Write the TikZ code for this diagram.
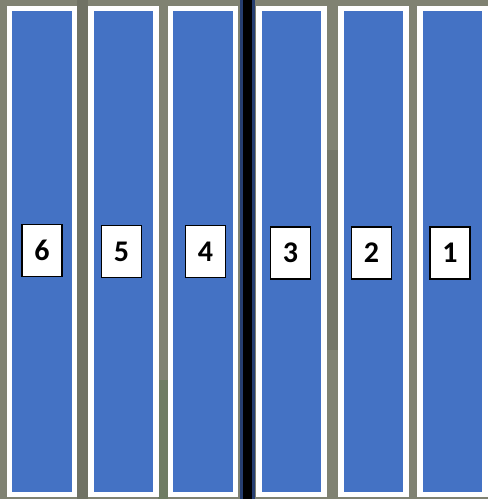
\documentclass[tikz,border=0pt]{standalone}
\usepackage{fontspec}
\setmainfont{Carlito}
\definecolor{ground}{RGB}{128,130,114}
\definecolor{groundgreen}{RGB}{95,120,85}
\definecolor{stripblue}{RGB}{68,114,196}
\definecolor{edgenavy}{RGB}{38,62,112}
\begin{document}
\begin{tikzpicture}[x=1pt,y=-1pt,
  strip/.style={rectangle,fill=stripblue,draw=white,line width=5.5pt,minimum width=65pt,minimum height=486pt,inner sep=0pt},
  tag/.style={rectangle,fill=white,draw=black,line width=1.5pt,minimum width=40pt,minimum height=52pt,inner sep=0pt,font=\fontsize{30}{30}\selectfont\bfseries}]
\useasboundingbox (0,0) rectangle (488,499);
\fill[ground] (0,0) rectangle (488,499);
% subtle photo variation
\fill[groundgreen,opacity=0.5] (158,380) rectangle (168,499);
\fill[black,opacity=0.12] (77,0) rectangle (88,499);
\fill[black,opacity=0.08] (327,150) rectangle (338,350);
% divider line
\fill[edgenavy] (240,0) rectangle (255,499);
\fill[black] (243,0) rectangle (252,499);
% strips
\node[strip] (s6) at (42,251.5) {};
\node[strip] (s5) at (123.5,251.5) {};
\node[strip] (s4) at (203,251.5) {};
\node[strip] (s3) at (291.5,251.5) {};
\node[strip] (s2) at (373.5,251.5) {};
\node[strip] (s1) at (452.5,251.5) {};
% labels
\node[tag] (l6) at (42,250.5) {6};
\node[tag] (l5) at (121.5,251.5) {5};
\node[tag] (l4) at (205.5,251.5) {4};
\node[tag] (l3) at (290.5,253) {3};
\node[tag] (l2) at (371.5,253) {2};
\node[tag] (l1) at (450,253) {1};
\end{tikzpicture}
\end{document}
